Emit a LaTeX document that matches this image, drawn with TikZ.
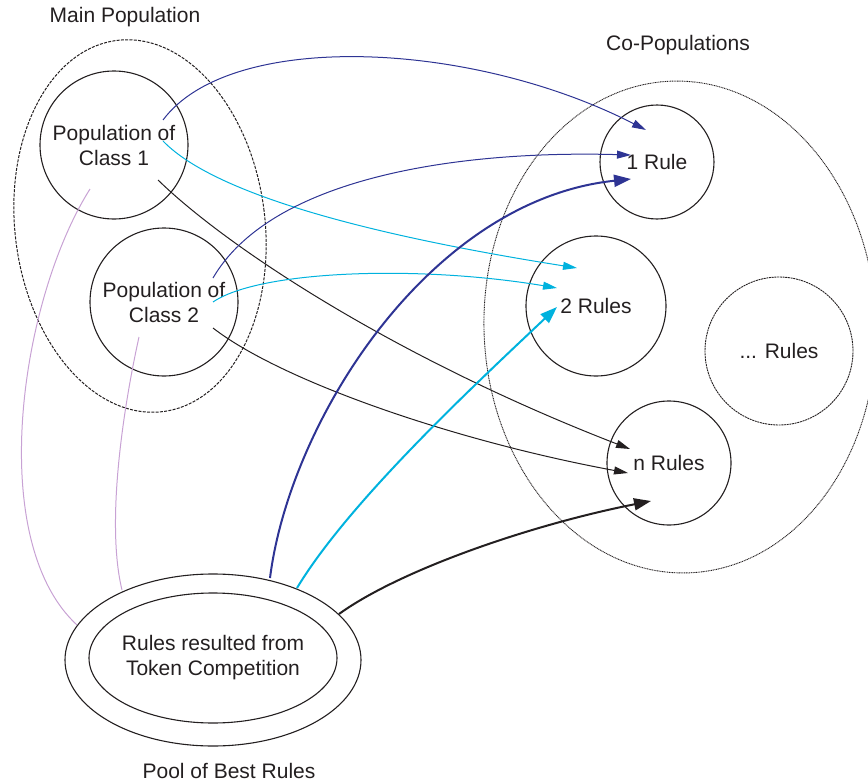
\documentclass[tikz,border=0pt]{standalone}
\usepackage{fontspec}
\setmainfont{Liberation Sans}
\usetikzlibrary{positioning,calc,shapes.geometric,arrows.meta}
\definecolor{inkgray}{RGB}{35,31,32}
\definecolor{navyline}{RGB}{46,52,148}
\definecolor{cyanline}{RGB}{0,178,222}
\definecolor{lilacline}{RGB}{200,162,212}

\begin{document}
\begin{tikzpicture}
   [x=1pt,y=-1pt,
    every node/.style={font=\fontsize{21}{25}\selectfont,text=inkgray},
    popcircle/.style={circle,draw=inkgray,line width=1.1pt,inner sep=0pt,
      minimum size=148pt,align=center},
    rulecircle/.style={circle,draw=inkgray,line width=1.1pt,inner sep=0pt,
      align=center},
    dashring/.style={ellipse,draw=inkgray,line width=1pt,
      dash pattern=on 3pt off 1.3pt,inner sep=0pt},
    dotring/.style={ellipse,draw=inkgray,line width=0.9pt,
      dash pattern=on 1pt off 0.7pt,inner sep=0pt},
    poolring/.style={ellipse,draw=inkgray,line width=1.1pt,inner sep=0pt,
      align=center},
    thinlink/.style={line width=1pt,-{Triangle[length=14pt,width=8pt]}},
    thicklink/.style={line width=2pt,-{Triangle[length=17pt,width=12pt]}},
    lilaclink/.style={line width=1pt,draw=lilacline}]
\useasboundingbox (0,0) rectangle (868,784);
% main population
\node [dashring,minimum width=250pt,minimum height=374pt,rotate=7] (main) at (140,226) {};
\node (mainlbl) at (125,17) {Main Population};
\node [popcircle] (cls1) at (114,145) {Population of\\Class 1};
\node [popcircle] (cls2) at (164,302) {Population of\\Class 2};
% co-populations
\node [dotring,minimum width=392pt,minimum height=492pt,rotate=2] (copop) at (680,327) {};
\node (copoplbl) at (678,45) {Co-Populations};
\node [rulecircle,minimum size=114pt] (rule1) at (657,162) {1 Rule};
\node [rulecircle,minimum size=140pt] (rule2) at (596,306) {2 Rules};
\node [rulecircle,minimum size=124pt] (rulen) at (669,463) {n Rules};
\node [rulecircle,minimum size=148pt,line width=0.9pt,dash pattern=on 2pt off 0.7pt] (rulex) at (779,351) {... Rules};
% pool of best rules
\node [poolring,minimum width=296pt,minimum height=172pt] (pool) at (213,660) {};
\node [poolring,inner xsep=-6pt,minimum width=248pt,minimum height=130pt] (token) at (213,658) {Rules resulted from\\Token Competition};
\node (poollbl) at (229,771) {Pool of Best Rules};

% end points of the links
\coordinate (c1a) at ($(cls1)+(49,-25)$);
\coordinate (c1b) at ($(cls1)+(49,-4)$);
\coordinate (c1c) at ($(cls1)+(44,35)$);
\coordinate (c1d) at ($(cls1)+(-24,44)$);
\coordinate (c2a) at ($(cls2)+(49,-24)$);
\coordinate (c2b) at ($(cls2)+(49,0)$);
\coordinate (c2c) at ($(cls2)+(49,26)$);
\coordinate (c2d) at ($(cls2)+(-25,35)$);
\coordinate (r1a) at ($(rule1)+(-11,-32)$);
\coordinate (r1b) at ($(rule1)+(-26,-7)$);
\coordinate (r1c) at ($(rule1)+(-26,17)$);
\coordinate (r2a) at ($(rule2)+(-19,-38)$);
\coordinate (r2b) at ($(rule2)+(-39,-18)$);
\coordinate (r2c) at ($(rule2)+(-39,1)$);
\coordinate (rna) at ($(rulen)+(-39,-14)$);
\coordinate (rnb) at ($(rulen)+(-41,10)$);
\coordinate (rnc) at ($(rulen)+(-18,38)$);
\coordinate (pa) at ($(pool)+(57,-82)$);
\coordinate (pb) at ($(pool)+(84,-72)$);
\coordinate (pc) at ($(pool)+(126,-46)$);
\coordinate (pd) at ($(pool)+(-136,-35)$);
\coordinate (pe) at ($(pool)+(-91,-70)$);

% links from the class populations
\draw [thinlink,navyline] (c1a) .. controls +(67,-90) and +(-176,-90) .. (r1a);
\draw [thinlink,cyanline] (c1b) .. controls +(57,59) and +(-177,-28) .. (r2a);
\draw [thinlink,inkgray] (c1c) .. controls +(72,70) and +(-230,-89) .. (rna);
\draw [thinlink,navyline] (c2a) .. controls +(57,-98) and +(-181,-5) .. (r1b);
\draw [thinlink,cyanline] (c2b) .. controls +(47,-32) and +(-137,-23) .. (r2b);
\draw [thinlink,inkgray] (c2c) .. controls +(67,52) and +(-178,-33) .. (rnb);
% links from the pool
\draw [thicklink,navyline] (pa) .. controls +(20,-158) and +(-201,21) .. (r1c);
\draw [thicklink,cyanline] (pb) .. controls +(53,-88) and +(-77,73) .. (r2c);
\draw [thicklink,inkgray] (pc) .. controls +(61,-44) and +(-121,24) .. (rnc);
\draw [lilaclink] (c1d) .. controls +(-70,111) and +(-92,-85) .. (pd);
\draw [lilaclink] (c2d) .. controls +(-14,63) and +(-17,-70) .. (pe);
\end{tikzpicture}
\end{document}
